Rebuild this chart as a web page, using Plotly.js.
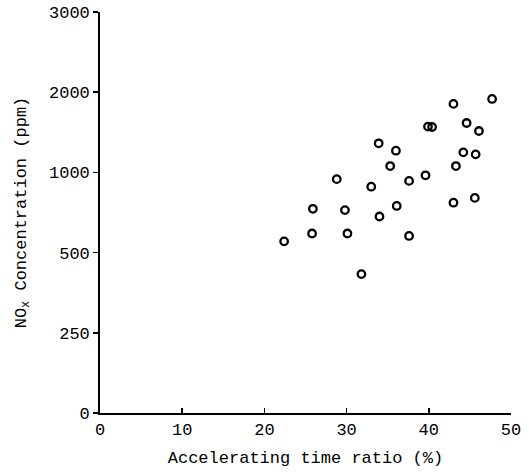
<!DOCTYPE html>
<html>
<head>
<meta charset="utf-8">
<script src="https://cdn.plot.ly/plotly-3.0.1.min.js"></script>
<style>html,body{margin:0;padding:0;background:#fff;}#chart{width:529px;height:474px;}</style>
</head>
<body>
<div id="chart"></div>
<script>
// Accelerating time ratio (%)
const ratio = [22.4, 25.8, 25.9, 28.8, 29.8, 30.1, 33.0, 33.9, 34.0, 35.3, 36.0, 36.1, 37.6, 37.6,
               39.6, 39.9, 40.4, 43.0, 43.3, 43.0, 44.2, 44.6, 45.6, 45.7, 46.1, 47.7, 31.8];
// NOx concentration (ppm)
const nox = [570, 619, 773, 958, 765, 619, 911, 1363, 725, 1079, 1271, 791, 947, 604,
             982, 1571, 1566, 1854, 1079, 811, 1250, 1616, 841, 1225, 1516, 1916, 433];
// y-axis tick labels (equally spaced on the original, non-linear scale)
const yTicks = [0, 250, 500, 1000, 2000, 3000];
const xTicks = [0, 10, 20, 30, 40, 50];

// piecewise mapping of ppm onto the equally spaced tick scale
function toAxis(v) {
  for (let i = 0; i < yTicks.length - 1; i++) {
    if (v <= yTicks[i + 1]) return i + (v - yTicks[i]) / (yTicks[i + 1] - yTicks[i]);
  }
  return yTicks.length - 1;
}

const font = {family: '"Liberation Mono", "DejaVu Sans Mono", monospace', color: '#000'};

const trace = {
  x: ratio,
  y: nox.map(toAxis),
  customdata: nox,
  type: 'scatter',
  mode: 'markers',
  marker: {symbol: 'circle-open', size: 7.5, color: '#000', line: {width: 2.3, color: '#000'}},
  hovertemplate: '%{x}%, %{customdata} ppm<extra></extra>'
};

const layout = {
  width: 529, height: 474,
  margin: {l: 100, r: 18, t: 12, b: 61},
  paper_bgcolor: '#fff', plot_bgcolor: '#fff',
  showlegend: false,
  font: Object.assign({size: 16}, font),
  xaxis: {
    range: [0, 50], tickvals: xTicks, ticktext: xTicks.map(String),
    showgrid: false, zeroline: false, showline: true, linecolor: '#000', linewidth: 1.8,
    ticks: 'inside', ticklen: 5, tickwidth: 1.5, tickcolor: '#000',
    tickfont: Object.assign({size: 17}, font),
    title: {text: 'Accelerating time ratio (%)', font: Object.assign({size: 17}, font), standoff: 12}
  },
  yaxis: {
    range: [0, 5], tickvals: yTicks.map((_, i) => i), ticktext: yTicks.map(String),
    showgrid: false, zeroline: false, showline: true, linecolor: '#000', linewidth: 1.8,
    ticks: 'outside', ticklen: 5, tickwidth: 1.5, tickcolor: '#000',
    ticklabelstandoff: 0,
    tickfont: Object.assign({size: 17}, font),
    title: {text: 'NO<sub>x</sub> Concentration (ppm)', font: Object.assign({size: 17}, font), standoff: 18}
  }
};

Plotly.newPlot('chart', [trace], layout, {displayModeBar: false, staticPlot: true});
</script>
</body>
</html>
